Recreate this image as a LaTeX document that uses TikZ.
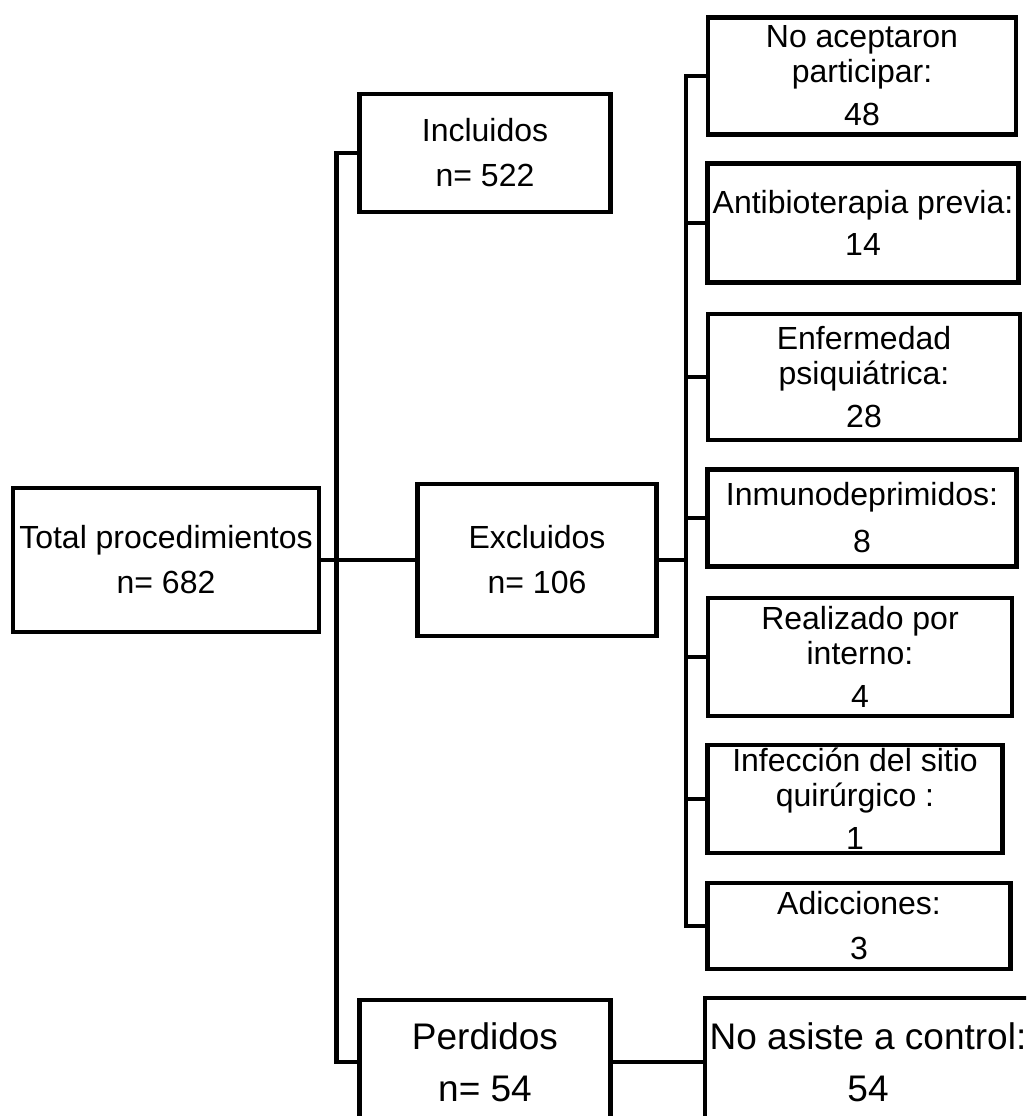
\documentclass[tikz,border=0pt]{standalone}
\usepackage{fontspec}
\setmainfont{Liberation Sans}
\newcommand\cajafont{\fontsize{32}{35}\selectfont}
\newcommand\grandefont{\fontsize{37}{42}\selectfont}
\tikzset{
  caja/.style={draw, line width=4.5pt, rectangle, inner sep=0pt, align=center, font=\cajafont},
  linea/.style={line width=4.5pt}
}
\begin{document}
\begin{tikzpicture}[x=1pt,y=-1pt]

\useasboundingbox (0,0) rectangle (1026,1116);
\clip (0,0) rectangle (1026,1116);

% Cajas principales
\node[caja, minimum width=306pt, minimum height=144pt] (total) at (166,560) {Total procedimientos\\[10pt]n= 682};
\node[caja, minimum width=251pt, minimum height=118pt] (incl) at (485,153) {Incluidos\\[10pt]n= 522};
\node[caja, minimum width=239pt, minimum height=152pt] (excl) at (537,560) {Excluidos\\[10pt]n= 106};
\node[caja, minimum width=251pt, minimum height=124pt, font=\grandefont] (perd) at (485,1062) {Perdidos\\[10pt]n= 54};

% Motivos de exclusion
\node[caja, minimum width=308pt, minimum height=117pt] (noac) at (862,76) {No aceptaron\\participar:\\[8pt]48};
\node[caja, minimum width=311pt, minimum height=119pt] (anti) at (863,223) {Antibioterapia previa:\\[7pt]14};
\node[caja, minimum width=312pt, minimum height=126pt] (enfe) at (864,377) {Enfermedad\\psiquiátrica:\\[8pt]28};
\node[caja, minimum width=309pt, minimum height=97pt] (inmu) at (862,518) {Inmunodeprimidos:\\[12pt]8};
\node[caja, minimum width=304pt, minimum height=118pt] (real) at (860,657) {Realizado por\\interno:\\[8pt]4};
\node[caja, minimum width=295pt, minimum height=108pt] (infe) at (855,799) {Infección del sitio\\quirúrgico :\\[8pt]1};
\node[caja, minimum width=303pt, minimum height=86pt] (adic) at (859,926) {Adicciones:\\[10pt]3};

% Perdidos
\node[caja, minimum width=326pt, minimum height=128pt, font=\grandefont] (noas) at (868,1062) {No asiste a control:\\[10pt]54};

% Lineas
\coordinate (rtronco) at (686,0);
\draw[linea] (total) -- (excl);
\draw[linea] (incl.west) -- ++(-21,0) |- (perd.west);
\draw[linea] (excl.east) -- (excl.east -| rtronco);
\draw[linea] (noac.west) -- (noac.west -| rtronco) |- (adic.west);
\foreach \c in {anti,enfe,inmu,real,infe}
  \draw[linea] (\c.west) -- (\c.west -| rtronco);
\draw[linea] (perd) -- (noas);

\end{tikzpicture}
\end{document}
